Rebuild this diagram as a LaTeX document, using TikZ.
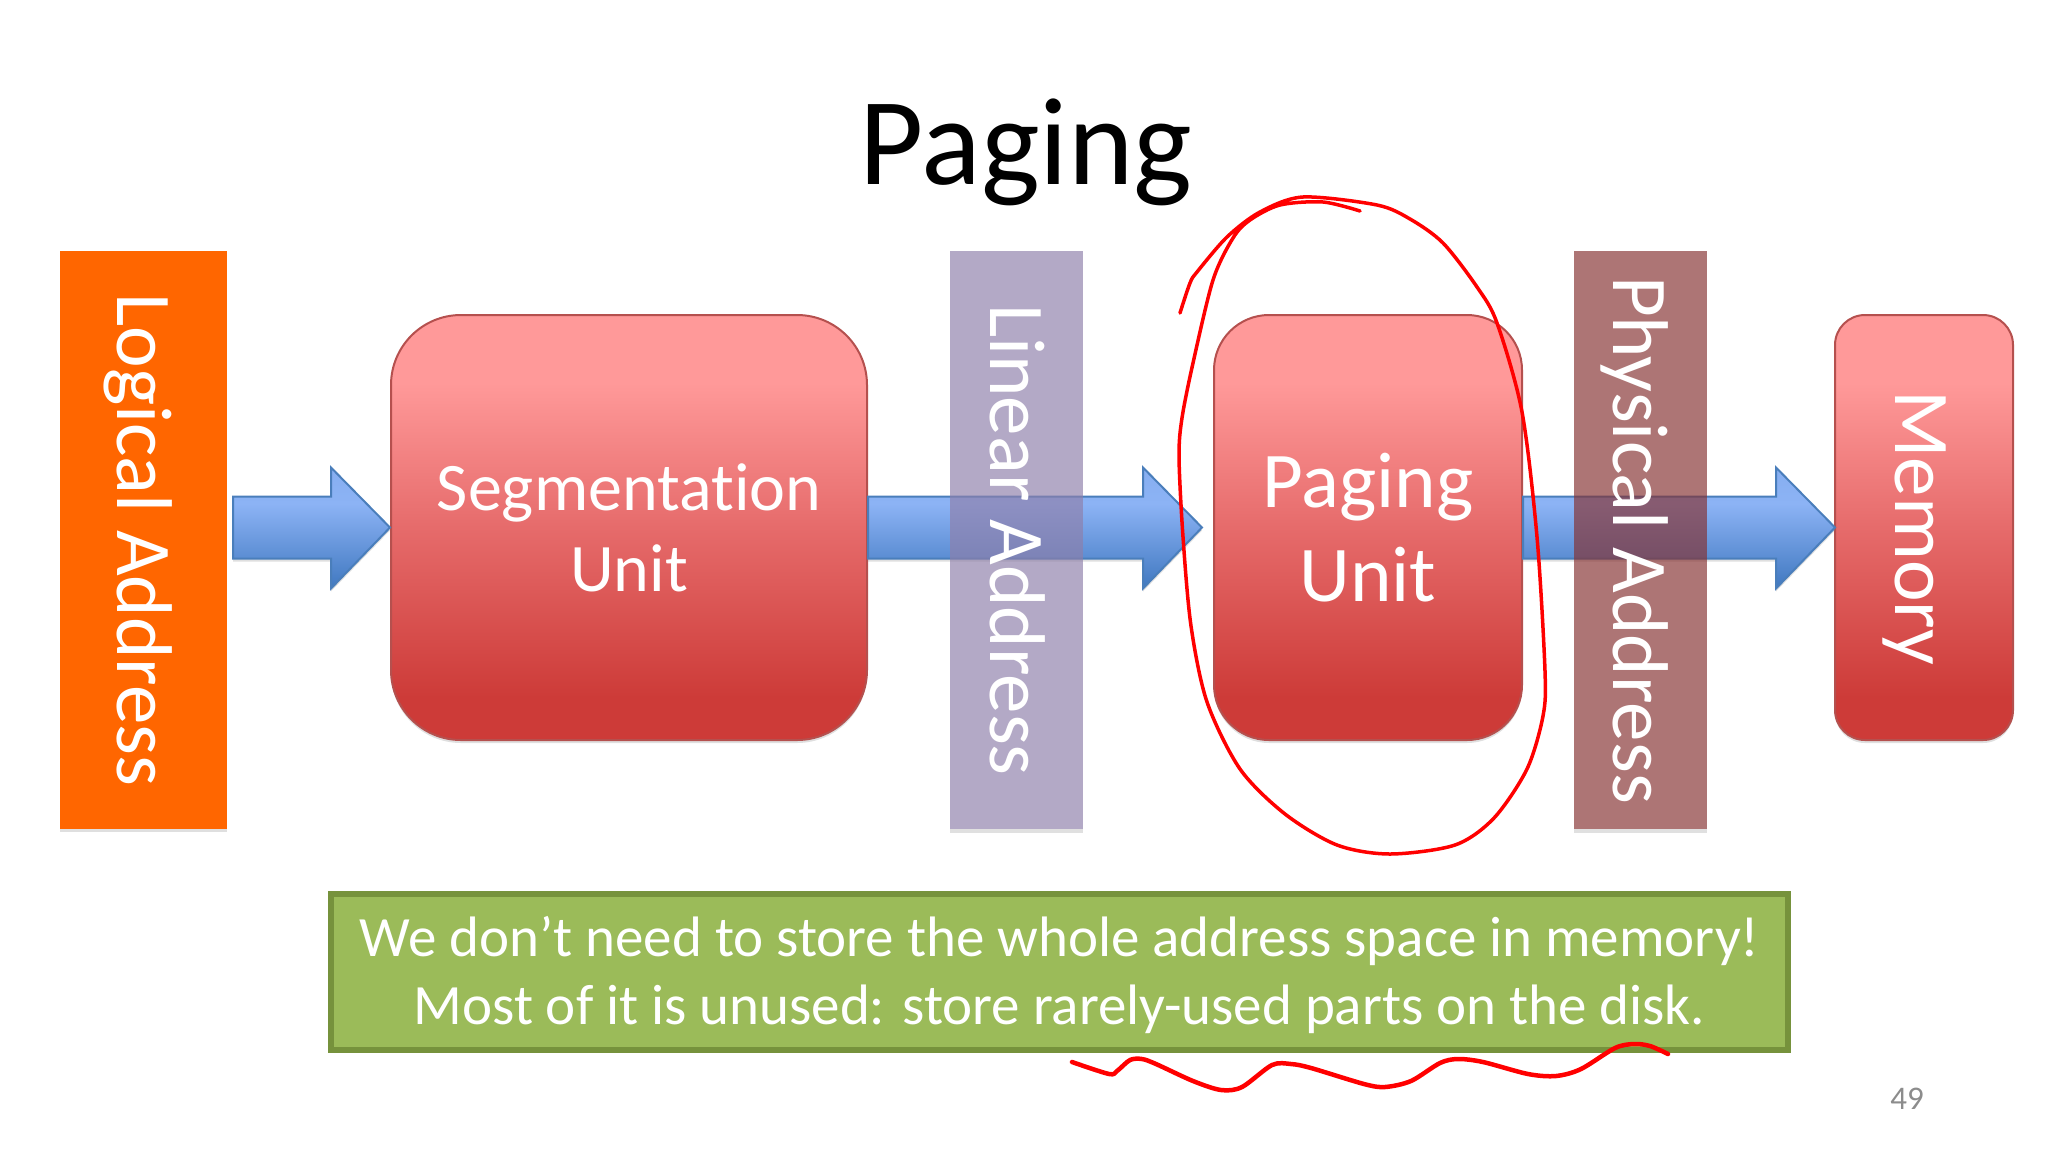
\documentclass[tikz,border=0pt]{standalone}
\usepackage{fontspec}
\setmainfont{Carlito}[Ligatures=NoCommon]
\usetikzlibrary{calc,shadows}
\definecolor{orangebox}{HTML}{FF6600}
\definecolor{linearbox}{HTML}{8E7FAA}
\definecolor{physicalbox}{HTML}{853131}
\definecolor{redline}{HTML}{B5504E}
\definecolor{redlight}{HTML}{FF9999}
\definecolor{redmid}{HTML}{E66B6B}
\definecolor{reddark}{HTML}{CD3B38}
\definecolor{blueline}{HTML}{4A7EBB}
\definecolor{bluelight}{HTML}{8CB3F5}
\definecolor{bluetop}{HTML}{7DA6E8}
\definecolor{bluedark}{HTML}{4078C0}
\definecolor{greenbox}{HTML}{9BBB59}
\definecolor{greenline}{HTML}{76923C}
\pgfdeclareverticalshading{redgrad}{100bp}{color(0bp)=(reddark); color(30bp)=(reddark); color(50bp)=(redmid); color(67bp)=(redlight); color(100bp)=(redlight)}
\pgfdeclareverticalshading{bluegrad}{100bp}{color(0bp)=(bluedark); color(25bp)=(bluedark); color(60bp)=(bluelight); color(100bp)=(bluetop)}
\tikzset{
    softshadow/.style={drop shadow={shadow xshift=0pt, shadow yshift=-3pt, opacity=.25}},
    addrbox/.style={rotate=-90, inner sep=0pt, minimum width=578pt, text=white, font=\fontsize{79}{79}\selectfont, text height=66pt},
    unitbox/.style={shading=redgrad, draw=redline, line width=2pt, softshadow, inner sep=0pt, text=white, align=center, minimum height=425pt},
    blockarrow/.style={shading=bluegrad, draw=blueline, line width=2pt, softshadow, line join=miter},
    penline/.style={draw=red, line width=3.5pt, line cap=round, line join=round}
}
\newcommand{\arrowblock}[2]{
    \path[blockarrow] ($(#1)+(0,-31)$) -- ($(#2 |- #1)+(-59,-31)$) -- ($(#2 |- #1)+(-59,-60)$) -- (#2)
        -- ($(#2 |- #1)+(-59,61)$) -- ($(#2 |- #1)+(-59,31)$) -- ($(#1)+(0,31)$) -- cycle;
}
\begin{document}
\begin{tikzpicture}[x=1pt, y=-1pt]
    \useasboundingbox (0,0) rectangle (2048,1152);
    \node[font=\fontsize{124.5}{124.5}\selectfont] (title) at (1026,152) {Paging};

    \node[addrbox, fill=orangebox, softshadow, minimum height=167pt] (logical) at (143.5,540) {Logical Address};
    \node[unitbox, minimum width=476pt, rounded corners=70pt, font=\fontsize{68}{81}\selectfont] (segunit) at (629,527.5) {Segmentation\\Unit};
    \node[unitbox, minimum width=308pt, rounded corners=55pt, font=\fontsize{79}{94}\selectfont] (pagingunit) at (1368,527.5) {Paging\\Unit};
    \path[shading=redgrad, draw=redline, line width=2pt, softshadow, rounded corners=30pt] (1835,315) rectangle (2013,740);
    \node[rotate=-90, text=white, inner sep=0pt, font=\fontsize{79}{79}\selectfont] (memory) at (1914,528) {Memory};
    \coordinate (memin) at (1835,527.5);

    \coordinate (tail1) at (233,527.5);
    \coordinate (tip2) at (1202,527.5);
    \arrowblock{tail1}{segunit.west}
    \arrowblock{segunit.east}{tip2}
    \arrowblock{pagingunit.east}{memin}

    \fill[black, opacity=.12] (950,829) rectangle (1083,833);
    \fill[black, opacity=.12] (1574,829) rectangle (1707,833);
    \node[addrbox, fill=linearbox, fill opacity=.67, text opacity=1, minimum height=133pt, text height=53pt] (linear) at (1016.5,540) {Linear Address};
    \node[addrbox, fill=physicalbox, fill opacity=.67, text opacity=1, minimum height=133pt] (physical) at (1640.5,540) {Physical Address};

    \node[fill=greenbox, draw=greenline, line width=6pt, inner sep=0pt, minimum width=1457pt, minimum height=156pt] (note) at (1059.5,972) {};
    \node[text=white, align=center, inner sep=0pt, font=\fontsize{57}{68}\selectfont] (notetext) at (1059.5,975) {We don’t need to store the whole address space in memory!\\Most of it is unused: store rarely-used parts on the disk.};
    \node[text=black!45, font=\fontsize{33}{33}\selectfont] (pagenum) at (1907,1099) {49};

    \draw[penline] plot[smooth, tension=.5] coordinates {(1180,313) (1190,283) (1197,272) (1227,237) (1260,212) (1303,197) (1377,205) (1410,219) (1443,243) (1477,287) (1497,323) (1522,412) (1537,537) (1545,671) (1543,716) (1527,769) (1494,818) (1455,845) (1390,854) (1337,845) (1285,814) (1240,769) (1207,702) (1191,626) (1183,537) (1179,457) (1182,418) (1193,363) (1213,280) (1233,238) (1250,220) (1280,205) (1323,202) (1360,211)};
    \draw[penline, line width=4.5pt] plot[smooth, tension=.5] coordinates {(1072,1062) (1109,1074) (1117,1071) (1130,1060) (1142,1059) (1156,1064) (1193,1081) (1221,1090) (1242,1087) (1272,1065) (1291,1064) (1311,1068) (1364,1084) (1385,1087) (1411,1081) (1440,1063) (1458,1059) (1483,1062) (1528,1074) (1556,1076) (1581,1069) (1615,1048) (1634,1044) (1650,1046) (1668,1054)};
\end{tikzpicture}
\end{document}
